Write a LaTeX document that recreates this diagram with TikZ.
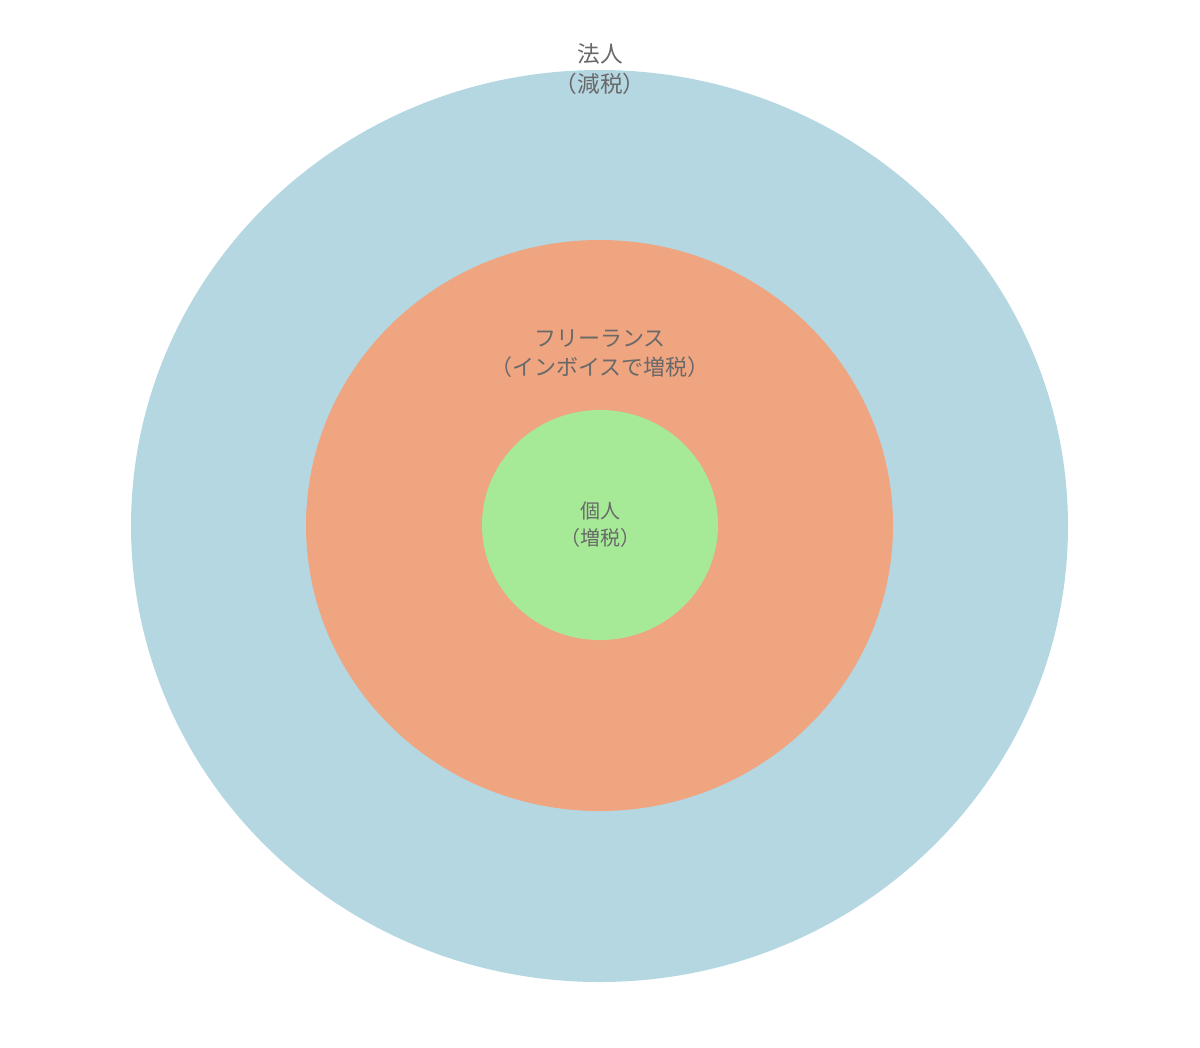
\documentclass[tikz,border=0pt]{standalone}
\usepackage{fontspec}
\setmainfont{Noto Sans CJK JP}
\definecolor{outerblue}{RGB}{181,215,226}
\definecolor{middlesalmon}{RGB}{239,165,128}
\definecolor{innergreen}{RGB}{166,234,151}
\definecolor{labelgray}{RGB}{105,105,105}
\tikzset{every picture/.style={line width=0.75pt}}
\tikzset{ringlabel/.style={text=labelgray, align=center, inner sep=0.75pt}}

\begin{document}
\begin{tikzpicture}[x=0.75pt,y=0.75pt,yscale=-1,xscale=1]
    \useasboundingbox (0,0) rectangle (1200,1047);

    %Shape: Ellipse [id:corporate]
    \fill [color=outerblue] (599.5,526) ellipse [x radius=468.5, y radius=456];

    %Shape: Ellipse [id:freelance]
    \fill [color=middlesalmon] (599.5,525.5) ellipse [x radius=293.5, y radius=285.5];

    %Shape: Ellipse [id:individual]
    \fill [color=innergreen] (600,525) ellipse [x radius=118, y radius=115];

    % Text Node
    \node [ringlabel, font=\fontsize{17}{22.5}\selectfont] (hojin) at (600,69) {法人\\（減税）};
    % Text Node
    \node [ringlabel, font=\fontsize{16.5}{21.8}\selectfont] (freelance) at (600,354) {フリーランス\\（インボイスで増税）};
    % Text Node
    \node [ringlabel, font=\fontsize{15}{20.3}\selectfont] (kojin) at (600,525) {個人\\（増税）};
\end{tikzpicture}
\end{document}
